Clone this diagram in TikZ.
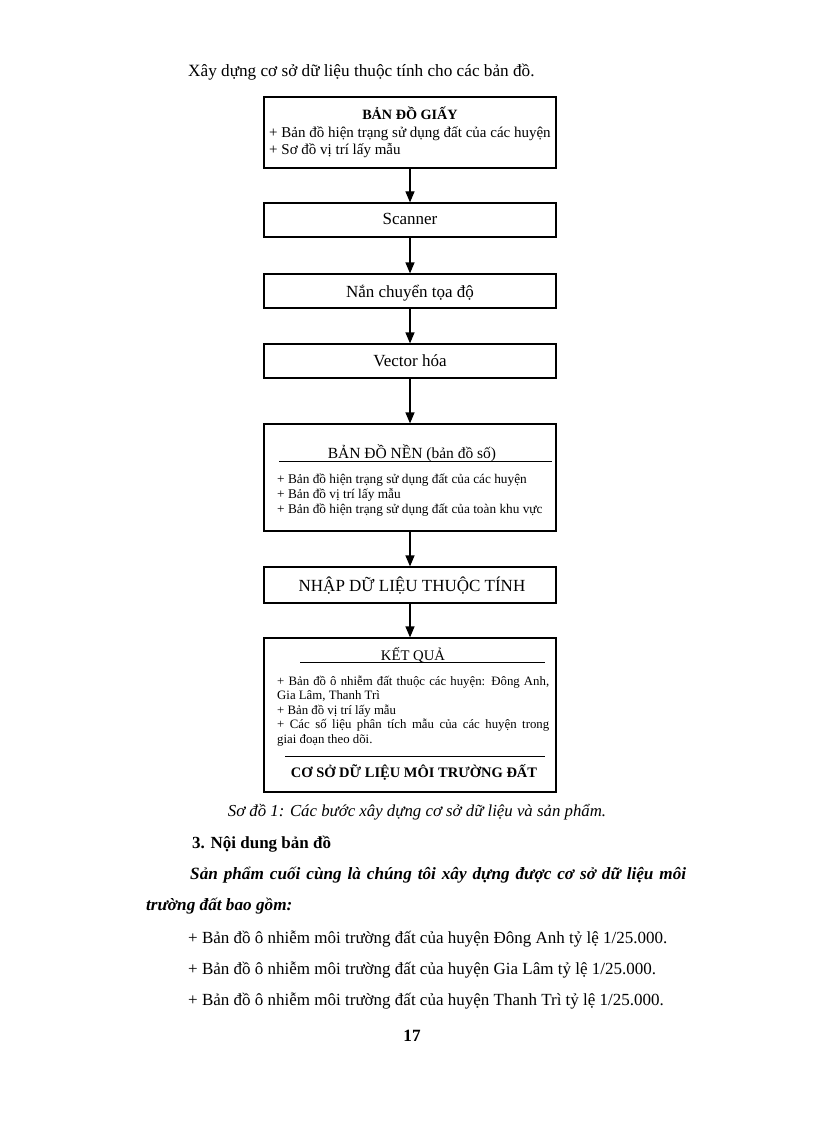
\documentclass[tikz,border=0pt]{standalone}
\usepackage{fontspec}
\setmainfont{Liberation Serif}
\usetikzlibrary{arrows.meta}

\begin{document}
\begin{tikzpicture}[x=1pt,y=-1pt,
    hop/.style={draw, line width=1.2pt, minimum width=292pt, inner sep=0pt},
    muiten/.style={-{Triangle[length=11pt,width=9pt]}, line width=1.2pt},
    chu/.style={inner sep=0pt, anchor=base west},
    giua/.style={inner sep=0pt, anchor=base},
    lon/.style={font=\fontsize{17}{20}\selectfont},
    vua/.style={font=\fontsize{17}{20}\selectfont}]
  \useasboundingbox (0,0) rectangle (816,1123);
  \node[chu, font=\fontsize{17.2}{20}\selectfont] (tieude) at (188,77) {Xây dựng cơ sở dữ liệu thuộc tính cho các bản đồ.};

  % cac hop cua so do
  \node[hop, minimum height=71pt] (giay) at (410,132.5) {};
  \node[hop, minimum height=34pt] (scan) at (410,220) {};
  \node[hop, minimum height=34pt] (nan) at (410,291) {};
  \node[hop, minimum height=34pt] (vec) at (410,361) {};
  \node[hop, minimum height=107pt] (nen) at (410,477.5) {};
  \node[hop, minimum height=36pt] (nhap) at (410,585) {};
  \node[hop, minimum height=154pt] (kq) at (410,715) {};
  \foreach \a/\b in {giay/scan, scan/nan, nan/vec, vec/nen, nen/nhap, nhap/kq}
    \draw[muiten] (\a) -- (\b);

  % chu trong hop
  \node[giua, font=\bfseries\fontsize{14.2}{16}\selectfont] (giayten) at (410,120) {BẢN ĐỒ GIẤY};
  \node[chu, font=\fontsize{15}{17}\selectfont] (giay1) at (269,138) {+ Bản đồ hiện trạng sử dụng đất của các huyện};
  \node[chu, font=\fontsize{15}{17}\selectfont] (giay2) at (269,155) {+ Sơ đồ vị trí lấy mẫu};
  \node[giua, vua] (scanten) at (410,225) {Scanner};
  \node[giua, vua] (nanten) at (410,297) {Nắn chuyển tọa độ};
  \node[giua, vua] (vecten) at (410,366) {Vector hóa};

  \node[giua, font=\fontsize{15.5}{18}\selectfont] (nenten) at (412,458) {BẢN ĐỒ NỀN (bản đồ số)};
  \draw[line width=0.8pt] (279,461) -- (552,461);
  \foreach \dong/\y [count=\i] in {{+ Bản đồ hiện trạng sử dụng đất của các huyện}/483,
      {+ Bản đồ vị trí lấy mẫu}/498,
      {+ Bản đồ hiện trạng sử dụng đất của toàn khu vực}/513}
    \node[chu, font=\fontsize{13.3}{15}\selectfont] (nen\i) at (277,\y) {\dong};

  \node[giua, vua] (nhapten) at (412,591) {NHẬP DỮ LIỆU THUỘC TÍNH};

  \node[giua, font=\fontsize{14.7}{17}\selectfont] (kqten) at (413,660) {KẾT QUẢ};
  \draw[line width=0.8pt] (300,662) -- (545,662);
  \node[chu, font=\fontsize{12.8}{14}\selectfont] (kq1) at (277,685) {\makebox[272pt][s]{+ Bản đồ ô nhiễm đất thuộc các huyện: Đông Anh,}};
  \node[chu, font=\fontsize{12.8}{14}\selectfont] (kq2) at (277,699.5) {Gia Lâm, Thanh Trì};
  \node[chu, font=\fontsize{12.8}{14}\selectfont] (kq3) at (277,714) {+ Bản đồ vị trí lấy mẫu};
  \node[chu, font=\fontsize{12.8}{14}\selectfont] (kq4) at (277,728.5) {\makebox[272pt][s]{+ Các số liệu phân tích mẫu của các huyện trong}};
  \node[chu, font=\fontsize{12.8}{14}\selectfont] (kq5) at (277,743) {giai đoạn theo dõi.};
  \draw[line width=0.8pt] (285,756) -- (545,756);
  \node[giua, font=\bfseries\fontsize{14.5}{17}\selectfont] (csdl) at (414,777) {CƠ SỞ DỮ LIỆU MÔI TRƯỜNG ĐẤT};

  % phan chu ben duoi
  \node[giua, font=\itshape\fontsize{16.8}{20}\selectfont] (chuthich) at (417,816) {Sơ đồ 1: Các bước xây dựng cơ sở dữ liệu và sản phẩm.};
  \node[chu, font=\bfseries\fontsize{17}{20}\selectfont] (muc3) at (192,848) {3. Nội dung bản đồ};
  \node[chu, font=\bfseries\itshape\fontsize{17.2}{20}\selectfont] (sp1) at (190,879) {\makebox[496pt][s]{Sản phẩm cuối cùng là chúng tôi xây dựng được cơ sở dữ liệu môi}};
  \node[chu, font=\bfseries\itshape\fontsize{17.2}{20}\selectfont] (sp2) at (146,910) {trường đất bao gồm:};
  \foreach \ten/\y [count=\i] in {Đông Anh/943, Gia Lâm/974, Thanh Trì/1005}
    \node[chu, lon] (bd\i) at (188,\y) {+ Bản đồ ô nhiễm môi trường đất của huyện \ten\ tỷ lệ 1/25.000.};
  \node[giua, font=\bfseries\fontsize{17.2}{20}\selectfont] (trang) at (412,1041) {17};
\end{tikzpicture}
\end{document}
